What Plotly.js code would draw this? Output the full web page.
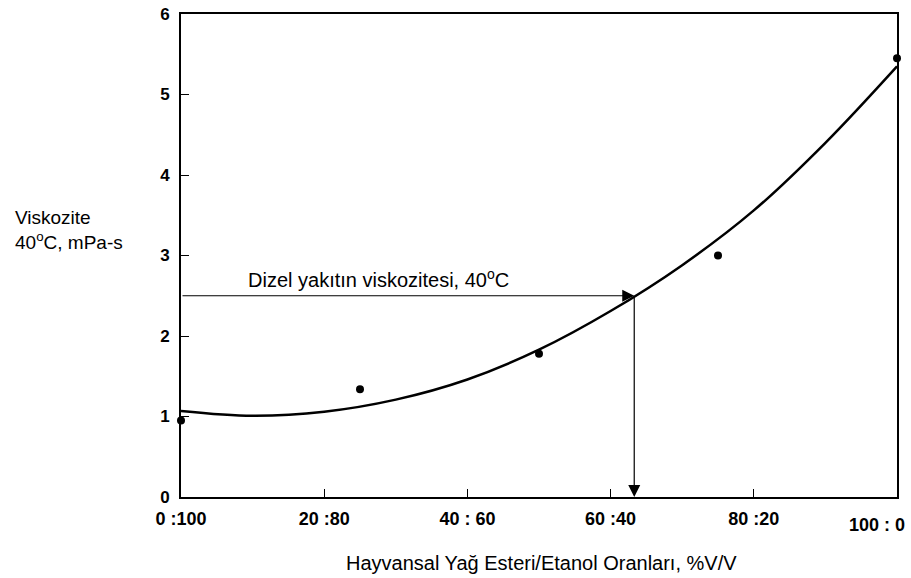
<!DOCTYPE html>
<html>
<head>
<meta charset="utf-8">
<script src="https://cdn.plot.ly/plotly-3.0.1.min.js"></script>
<style>html,body{margin:0;padding:0;background:#fff;}#chart{width:911px;height:578px;}</style>
</head>
<body>
<div id="chart"></div>
<script>
// Measured data points (ester share %, viscosity mPa-s)
const pointX = [0, 25, 50, 75, 100];
const pointY = [0.95, 1.34, 1.78, 3.0, 5.45];

// Fitted curve
const curveX = [0, 10, 20, 30, 40, 50, 60, 70, 80, 90, 100];
const curveY = [1.07, 1.01, 1.06, 1.21, 1.46, 1.83, 2.31, 2.88, 3.56, 4.4, 5.35];

// Diesel reference viscosity and intersection
const dieselVisc = 2.5;
const dieselX = 63.3;

const tickVals = [0, 20, 40, 60, 80, 100];
const tickText = ['0 :100', '20 :80', '40 : 60', '60 :40', '80 :20', ''];
const lastTickText = '100 : 0';
const yTickVals = [0, 1, 2, 3, 4, 5, 6];

const FONT = 'Liberation Sans, Arial, sans-serif';

const traces = [
  {x: curveX, y: curveY, mode: 'lines', line: {color: '#000', width: 2.5, shape: 'spline'}, hoverinfo: 'skip', cliponaxis: false},
  {x: pointX, y: pointY, mode: 'markers', marker: {color: '#000', size: 8}, cliponaxis: false}
];

const layout = {
  width: 911, height: 578,
  margin: {l: 181, r: 14, t: 14, b: 81},
  paper_bgcolor: '#fff', plot_bgcolor: '#fff',
  showlegend: false,
  font: {family: FONT, color: '#000'},
  xaxis: {
    range: [0, 100], tickvals: tickVals, ticktext: tickText,
    ticks: 'inside', ticklen: 8, tickwidth: 1, tickcolor: '#000',
    showgrid: false, zeroline: false, showline: true, mirror: true,
    linecolor: '#000', linewidth: 2, ticklabelstandoff: 4,
    tickfont: {family: FONT, size: 18, color: '#000', weight: 'bold'}
  },
  yaxis: {
    range: [0, 6], tickvals: yTickVals,
    ticks: 'inside', ticklen: 8, tickwidth: 1, tickcolor: '#000',
    showgrid: false, zeroline: false, showline: true, mirror: true,
    linecolor: '#000', linewidth: 2, ticklabelstandoff: 6,
    tickfont: {family: FONT, size: 17, color: '#000', weight: 'bold'}
  },
  annotations: [
    {x: dieselX, y: dieselVisc, ax: 0, ay: dieselVisc, xref: 'x', yref: 'y', axref: 'x', ayref: 'y',
     showarrow: true, arrowhead: 2, arrowsize: 2, arrowwidth: 1.2, arrowcolor: '#000', text: ''},
    {x: dieselX, y: 0, ax: dieselX, ay: dieselVisc, xref: 'x', yref: 'y', axref: 'x', ayref: 'y',
     showarrow: true, arrowhead: 2, arrowsize: 2, arrowwidth: 1.2, arrowcolor: '#000', text: ''},
    {x: tickVals[5], y: -0.058, xref: 'x', yref: 'paper', xanchor: 'right', yanchor: 'middle', xshift: 10, showarrow: false,
     text: lastTickText, font: {family: FONT, size: 18, color: '#000', weight: 'bold'}},
    {x: 27.6, y: 2.72, xref: 'x', yref: 'y', showarrow: false,
     text: 'Dizel yakıtın viskozitesi, 40<sup>o</sup>C', font: {family: FONT, size: 20, color: '#000'}},
    {x: -0.2346, y: 0.553, xref: 'paper', yref: 'paper', xanchor: 'left', yanchor: 'middle', align: 'left', showarrow: false,
     text: 'Viskozite<br>40<sup>o</sup>C, mPa-s', font: {family: FONT, size: 19, color: '#000'}},
    {x: 0.503, y: -0.137, xref: 'paper', yref: 'paper', xanchor: 'center', yanchor: 'middle', showarrow: false,
     text: 'Hayvansal Yağ Esteri/Etanol Oranları, %V/V', font: {family: FONT, size: 20, color: '#000'}}
  ]
};

Plotly.newPlot('chart', traces, layout, {staticPlot: true, displayModeBar: false});
</script>
</body>
</html>
